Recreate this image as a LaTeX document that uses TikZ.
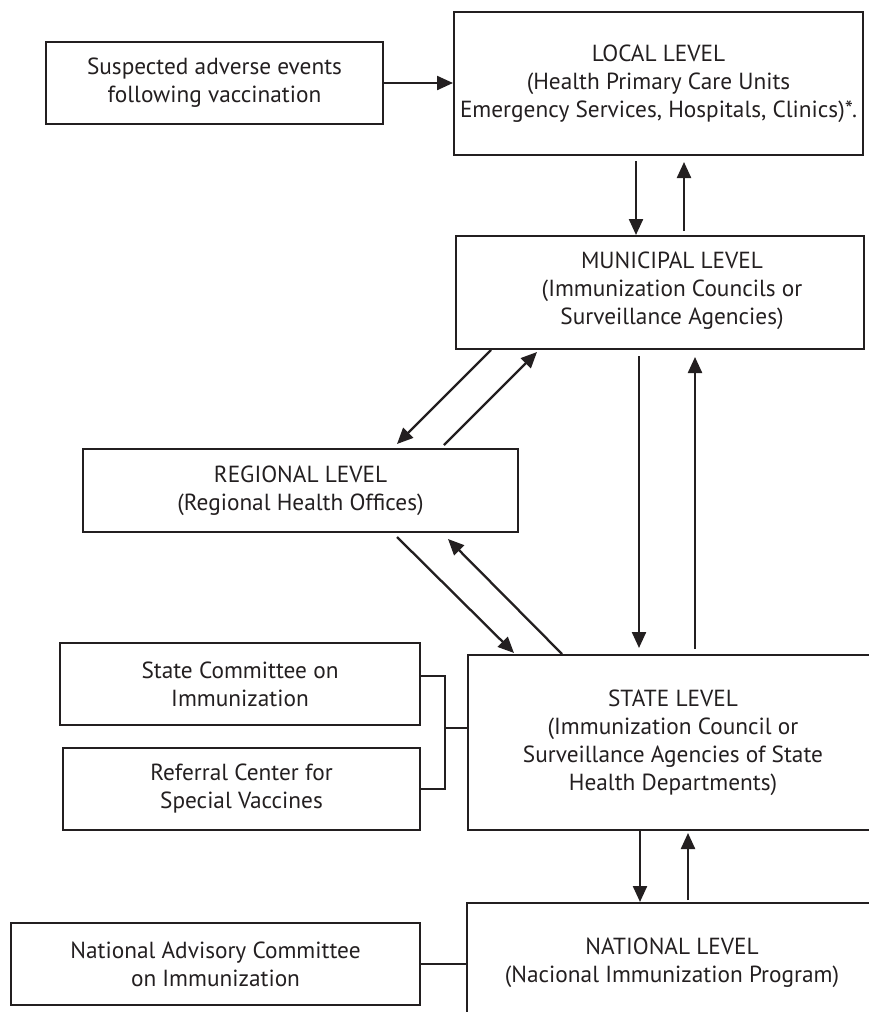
\documentclass[tikz,border=0pt]{standalone}
\usepackage{fontspec}
\setmainfont{PT Sans}
\usetikzlibrary{arrows.meta,calc}
\definecolor{ink}{HTML}{231F20}
\begin{document}
\begin{tikzpicture}[x=1pt,y=-1pt,
  box/.style={draw=ink, line width=2pt, rectangle, inner sep=0pt, anchor=north west,
    align=center, text=ink, font={\fontsize{23.3}{28}\selectfont}},
  lbl/.style={inner sep=0pt, align=center, text=ink, font={\fontsize{23.3}{28}\selectfont}},
  arr/.style={draw=ink, line width=2.3pt, -{Triangle[length=16pt,width=14pt]}},
  link/.style={draw=ink, line width=1.8pt},
  thinlink/.style={draw=ink, line width=1.3pt}]
\useasboundingbox (0,0) rectangle (869,1012);

% boxes
\node[box, minimum width=337pt, minimum height=82pt] (sus) at (45,41)
  {Suspected adverse events\\following vaccination};
\node[box, minimum width=409pt, minimum height=143pt] (loc) at (453,11)
  {LOCAL LEVEL\\(Health Primary Care Units\\Emergency Services, Hospitals, Clinics)*.};
\node[box, minimum width=408pt, minimum height=113pt] (mun) at (455,235) {};
\node[lbl] (muntext) at ($(mun.center)+(12,-2)$)
  {MUNICIPAL LEVEL\\(Immunization Councils or\\Surveillance Agencies)};
\node[box, minimum width=435pt, minimum height=83pt] (reg) at (82,448)
  {REGIONAL LEVEL\\(Regional Health Offices)};
\node[box, minimum width=410pt, minimum height=175pt] (sta) at (467,654)
  {STATE LEVEL\\(Immunization Council or\\Surveillance Agencies of State\\Health Departments)};
\node[box, minimum width=360pt, minimum height=82pt] (sc) at (59,642)
  {State Committee on\\Immunization};
\node[box, minimum width=357pt, minimum height=82pt] (ref) at (62,747)
  {Referral Center for\\Special Vaccines};
\node[box, minimum width=410pt, minimum height=120pt] (nat) at (466,902)
  {NATIONAL LEVEL\\(Nacional Immunization Program)};
\node[box, minimum width=409pt, minimum height=82pt] (nac) at (10,922)
  {National Advisory Committee\\on Immunization};

% suspected -> local
\draw[arr] (sus.east) -- (sus.east -| loc.west);

% local <-> municipal
\coordinate (a1) at ($(loc.south)+(-22.5,5)$);
\draw[arr] (a1) -- (a1 |- mun.north);
\coordinate (a2) at ($(mun.north)+(24,-4)$);
\draw[arr] (a2) -- ($(a2 |- loc.south)+(0,6)$);

% municipal <-> regional
\draw[arr] ($(mun.south west)+(36,0)$) -- ($(reg.north east)+(-122,-4)$);
\draw[arr] ($(reg.north east)+(-75,-3)$) -- ($(mun.south west)+(82,2)$);

% regional <-> state
\draw[arr] ($(reg.south east)+(-122,4)$) -- ($(sta.north west)+(47,-1)$);
\draw[arr] ($(sta.north west)+(95,0)$) -- ($(reg.south east)+(-71,6)$);

% municipal <-> state
\coordinate (a3) at ($(mun.south)+(-21,6)$);
\draw[arr] (a3) -- ($(a3 |- sta.north)+(0,-6)$);
\coordinate (a4) at ($(sta.north)+(22,-5)$);
\draw[arr] (a4) -- ($(a4 |- mun.south)+(0,7)$);

% state <-> national
\coordinate (a5) at ($(sta.south)+(-33,0)$);
\draw[arr] (a5) -- (a5 |- nat.north);
\coordinate (a6) at ($(nat.north)+(16,-2)$);
\draw[arr] (a6) -- ($(a6 |- sta.south)+(0,2)$);

% bracket to state level
\coordinate (bt) at ($(sc.east)+(24,-8)$);
\coordinate (bb) at ($(ref.east)+(24,0)$);
\draw[link] ($(sc.east)+(0,-8)$) -- (bt) -- (bb) -- (ref.east);
\draw[thinlink] ($(bt |- sta.west)+(0,-14.5)$) -- ($(sta.west)+(0,-14.5)$);

% advisory committee -- national
\draw[thinlink] (nac.east) -- (nac.east -| nat.west);
\end{tikzpicture}
\end{document}
